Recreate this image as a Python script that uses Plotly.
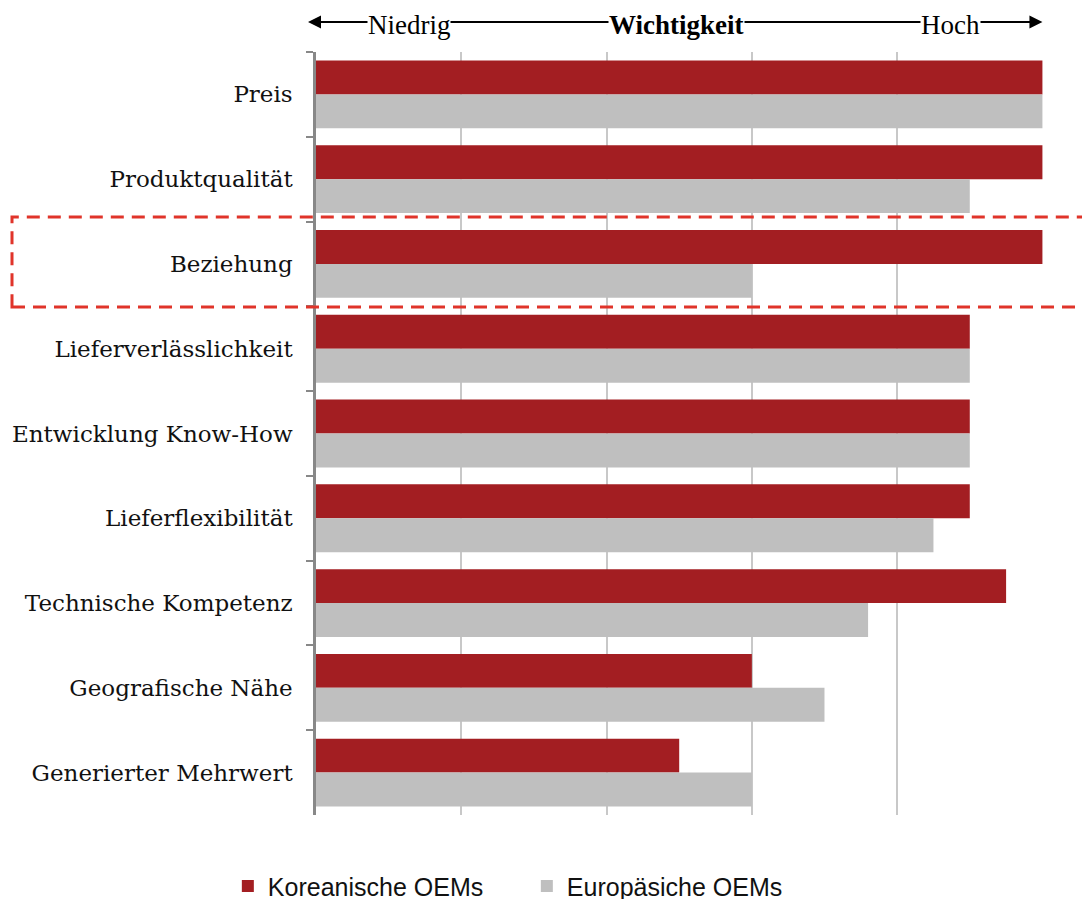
import plotly.graph_objects as go

# ── Data ──────────────────────────────────────────────────────────────────────
categories = [
    "Preis", "Produktqualität", "Beziehung", "Lieferverlässlichkeit",
    "Entwicklung Know-How", "Lieferflexibilität", "Technische Kompetenz",
    "Geografische Nähe", "Generierter Mehrwert",
]
korean = [5, 5, 5, 4.5, 4.5, 4.5, 4.75, 3, 2.5]
european = [5, 4.5, 3, 4.5, 4.5, 4.25, 3.8, 3.5, 3]

RED = "#a31e22"
GRAY = "#bfbfbf"
SERIF = "DejaVu Serif"
HEAD = "Liberation Serif"

# page body adds an 8px offset, so margins are shifted to compensate
L, R, T, B = 308, 55, 44, 92
PH = 899 - T - B

fig = go.Figure()
fig.add_trace(go.Bar(y=categories, x=korean, orientation="h",
                     name="Koreanische OEMs", marker=dict(color=RED, line_width=0)))
fig.add_trace(go.Bar(y=categories, x=european, orientation="h",
                     name="Europäsiche OEMs", marker=dict(color=GRAY, line_width=0)))

fig.update_layout(
    width=1090, height=899,
    barmode="group", bargap=0.2, bargroupgap=0,
    plot_bgcolor="white", paper_bgcolor="white",
    margin=dict(l=L, r=R, t=T, b=B, autoexpand=False),
    legend=dict(orientation="h", xref="container", x=0.476, xanchor="center",
                yref="container", y=0.023, yanchor="middle",
                font=dict(family="Liberation Sans", size=25, color="#111"),
                traceorder="normal", itemwidth=30, entrywidth=254),
    showlegend=True,
)
fig.update_xaxes(range=[0, 5.004], dtick=1, showticklabels=False, showgrid=True,
                 gridcolor="#c8c8c8", gridwidth=1.5, zeroline=False, showline=False,
                 automargin=False)
fig.update_yaxes(autorange="reversed", showline=True, linecolor="#888", linewidth=2.5,
                 ticks="outside", tickson="boundaries", ticklen=7, tickcolor="#888",
                 tickwidth=2, ticklabelstandoff=16, automargin=False,
                 tickfont=dict(family=SERIF, size=23, color="#111"))

# ── Header arrow "Niedrig — Wichtigkeit — Hoch" ──────────────────────────────
hy = 1 + 30 / PH
fig.add_shape(type="line", xref="x", yref="paper", x0=-0.03, x1=4.95, y0=hy, y1=hy,
              line=dict(color="black", width=2))
for head, tail in [(5, 4.0), (-0.055, 1.0)]:
    fig.add_annotation(xref="x", yref="paper", x=head, y=hy, axref="x", ax=tail, ay=0,
                       showarrow=True, arrowhead=2, arrowsize=1.3, arrowwidth=2,
                       arrowcolor="black", text="")
for label, xpos, bold in [("Niedrig", 0.64, False), ("Wichtigkeit", 2.48, True), ("Hoch", 4.37, False)]:
    fig.add_annotation(xref="x", yref="paper", x=xpos, y=hy, yanchor="middle", yshift=-3,
                       showarrow=False, text=f"<b>{label}</b>" if bold else label,
                       bgcolor="white", borderpad=0,
                       font=dict(family=HEAD, size=27, color="black"))

# ── Highlight box around "Beziehung" ─────────────────────────────────────────
box_top, box_bot = 217 - 8, 307 - 8
fig.add_shape(type="rect", xref="paper", yref="paper",
              x0=(4 - L) / 727, x1=1.2,
              y0=(899 - B - box_bot) / PH, y1=(899 - B - box_top) / PH,
              line=dict(color="#e0342a", width=3, dash="13px,8px"), fillcolor="rgba(0,0,0,0)")

fig.write_html("out.html")
